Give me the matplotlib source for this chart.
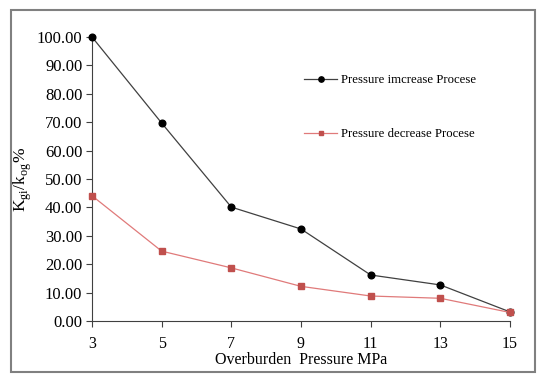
import matplotlib.pyplot as plt
from matplotlib.patches import Rectangle

plt.rcParams['font.family'] = ['Liberation Serif', 'DejaVu Serif']

# data
pressure = [3, 5, 7, 9, 11, 13, 15]
increase = [100.0, 69.7, 40.1, 32.4, 16.2, 12.7, 3.2]
decrease = [44.1, 24.6, 18.7, 12.2, 8.8, 8.0, 3.0]
yticks = [0, 10, 20, 30, 40, 50, 60, 70, 80, 90, 100]

fig = plt.figure(figsize=(5.5, 3.82), dpi=100)
fig.patches.append(Rectangle((11 / 550, 1 - 372 / 382), 524 / 550, 362 / 382,
                             transform=fig.transFigure, fill=False,
                             edgecolor='#808080', linewidth=1.5))

ax = fig.add_axes([92 / 550, 1 - 321 / 382, 418 / 550, 284 / 382])
ax.plot(pressure, increase, color='#404040', linewidth=0.9, marker='o',
        markersize=4.8, markerfacecolor='black', markeredgecolor='black',
        label='Pressure imcrease Procese', clip_on=False, zorder=3)
ax.plot(pressure, decrease, color='#E07A7A', linewidth=0.9, marker='s',
        markersize=4.3, markerfacecolor='#C0504D', markeredgecolor='#C0504D',
        label='Pressure decrease Procese', clip_on=False, zorder=3)

ax.set_xlim(3, 15)
ax.set_ylim(0, 100)
ax.set_xticks(pressure)
ax.set_yticks(yticks)
ax.set_yticklabels(['%.2f' % v for v in yticks])
for s in ['top', 'right']:
    ax.spines[s].set_visible(False)
for s in ['left', 'bottom']:
    ax.spines[s].set_color('#404040')
ax.tick_params(labelsize=12, length=4, color='#404040', pad=3)
ax.tick_params(axis='x', labelsize=11.5, pad=7)

ax.set_xlabel('Overburden  Pressure MPa', fontsize=11.5, labelpad=0)
ax.set_ylabel('K$_{\\mathregular{gi}}$/k$_{\\mathregular{og}}$%', fontsize=12.5, labelpad=2)

ax.legend(loc='upper left', bbox_to_anchor=(0.48, 0.91), frameon=False,
          fontsize=9.2, labelspacing=3.3, handlelength=2.6, handletextpad=0.3,
          markerscale=0.8)

fig.savefig('out.png', dpi=100)
